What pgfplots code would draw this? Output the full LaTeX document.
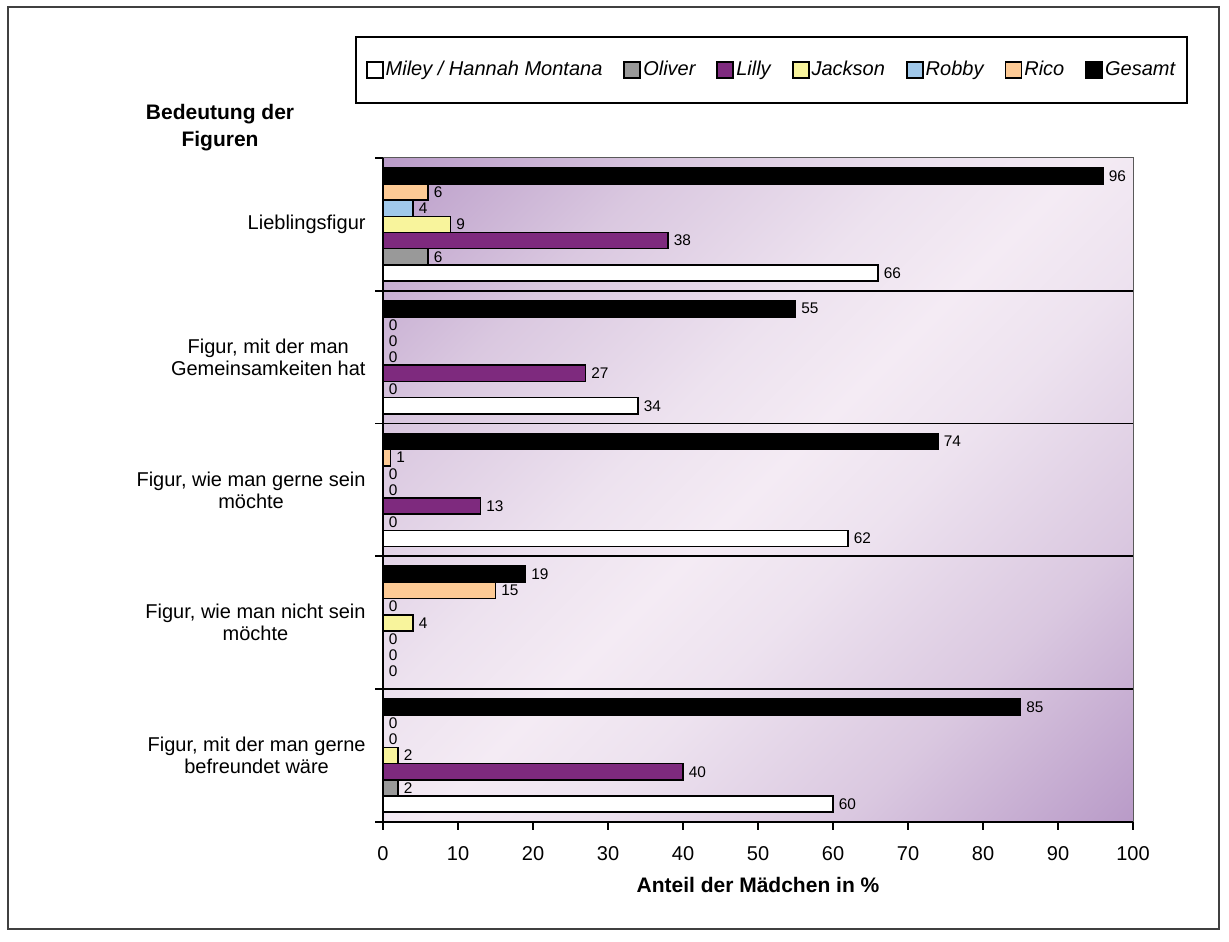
\documentclass[border=0pt]{standalone}
\usepackage{pgfplots}
\pgfplotsset{compat=1.18}
\usepackage{pgfplotstable}
\usepackage{fontspec}
\setmainfont{Liberation Sans}

% series colours
\definecolor{cOliver}{HTML}{999999}
\definecolor{cLilly}{HTML}{7E2A7E}
\definecolor{cJackson}{HTML}{F8F49C}
\definecolor{cRobby}{HTML}{A0C8EA}
\definecolor{cRico}{HTML}{FDCA95}
% plot area gradient
\definecolor{bgDark}{HTML}{B99BC8}
\definecolor{bgMid}{HTML}{DAC8E0}
\definecolor{bgLightA}{HTML}{EDE2EF}
\definecolor{bgLight}{HTML}{F4EBF4}

\pgfdeclareverticalshading{plotbg}{100bp}{%
  color(0bp)=(bgDark); color(14.6bp)=(bgDark); color(29bp)=(bgMid);
  color(42bp)=(bgLightA); color(50bp)=(bgLight); color(58bp)=(bgLightA);
  color(71bp)=(bgMid); color(85.4bp)=(bgDark); color(100bp)=(bgDark)}

\newcommand\basefont{\fontsize{10bp}{11bp}\selectfont}
\newcommand\labfont{\fontsize{7.7bp}{9bp}\selectfont}
\newcommand\legfont{\fontsize{10bp}{12bp}\selectfont\itshape}
\newcommand\titlefont{\fontsize{10.5bp}{13.5bp}\selectfont\bfseries}

% share of girls (%) per figure and question; pos = row from the bottom
\pgfplotstableread{
pos  miley oliver lilly jackson robby rico gesamt
4    66    6      38    9       4     6    96
3    34    0      27    0       0     0    55
2    62    0      13    0       0     1    74
1    0     0      0     4       0     15   19
0    60    2      40    2       0     0    85
}\figdata

\pgfplotsset{
  figbar/.style={
    xbar, bar width=0.1218, bar shift=0pt,
    draw=black, line width=0.8bp,
    nodes near coords, point meta=x,
    every node near coord/.append style={font=\labfont, anchor=west,
      inner sep=2.5bp, text=black},
    legend image code/.code={%
      \draw[##1, line width=0.9bp] (0bp,-4bp) rectangle (8bp,4bp);},
  },
}

\begin{document}
\begin{tikzpicture}
\path[use as bounding box] (0,0) rectangle (614.5bp,471bp);
\draw[black!75, line width=0.9bp] (4bp,6.5bp) rectangle (609.5bp,467.5bp);
\begin{axis}[
  at={(379bp,226bp)}, anchor=center,
  scale only axis, width=375bp, height=332bp,
  xmin=0, xmax=100, ymin=0, ymax=5,
  font=\basefont,
  /pgf/number format/assume math mode=true,
  axis line style={black!65, line width=0.5bp},
  axis background/.style={shade, shading=plotbg, shading angle=45},
  tick align=outside,
  xtick pos=bottom, ytick pos=left,
  xtick={0,10,...,100},
  minor xtick={0,10,...,100},
  ytick={0.5,1.5,...,4.5},
  yticklabels={{Figur, mit der man gerne\\befreundet wäre},
               {Figur, wie man nicht sein\\möchte},
               {Figur, wie man gerne sein\\möchte},
               {Figur, mit der man\\Gemeinsamkeiten hat},
               {Lieblingsfigur}},
  minor ytick={0,1,2,3,4},
  yminorgrids=true,
  minor grid style={black, line width=0.9bp},
  major tick length=0pt,
  minor tick length=4bp,
  tick style={black, line width=0.9bp},
  xticklabel style={font=\basefont, yshift=-8.7bp},
  yticklabel style={font=\basefont, align=center, xshift=-5.2bp},
  xlabel={Anteil der Mädchen in \%},
  xlabel style={font=\titlefont, at={(axis description cs:0.5,-0.0949)}, anchor=center},
  ylabel={Bedeutung der\\Figuren},
  ylabel style={rotate=-90, font=\titlefont, align=center,
    at={(axis description cs:-0.2173,1.045)}, anchor=center},
  legend columns=7,
  legend cell align=left,
  legend style={at={(0.518,1.1325)}, anchor=center, draw=black,
    line width=0.9bp, inner xsep=5bp, inner ysep=11bp, font=\legfont,
    nodes={inner sep=1bp},
    /tikz/every even column/.append style={column sep=9.5bp}},
  after end axis/.code={
    \draw[black, line width=1bp] (axis description cs:0,1)
      -- (axis description cs:0,0) -- (axis description cs:1,0);
    \draw[black, line width=0.9bp] (axis description cs:0,1) -- ++(-4bp,0pt);
  },
]
\addplot[figbar, fill=white]   table[x=miley,   y expr=\thisrow{pos}+0.5-0.3654] {\figdata};
\addplot[figbar, fill=cOliver] table[x=oliver,  y expr=\thisrow{pos}+0.5-0.2436] {\figdata};
\addplot[figbar, fill=cLilly]  table[x=lilly,   y expr=\thisrow{pos}+0.5-0.1218] {\figdata};
\addplot[figbar, fill=cJackson]table[x=jackson, y expr=\thisrow{pos}+0.5] {\figdata};
\addplot[figbar, fill=cRobby]  table[x=robby,   y expr=\thisrow{pos}+0.5+0.1218] {\figdata};
\addplot[figbar, fill=cRico]   table[x=rico,    y expr=\thisrow{pos}+0.5+0.2436] {\figdata};
\addplot[figbar, fill=black]   table[x=gesamt,  y expr=\thisrow{pos}+0.5+0.3654] {\figdata};
\legend{Miley / Hannah Montana, Oliver, Lilly, Jackson, Robby, Rico, Gesamt}
\end{axis}
\end{tikzpicture}
\end{document}
